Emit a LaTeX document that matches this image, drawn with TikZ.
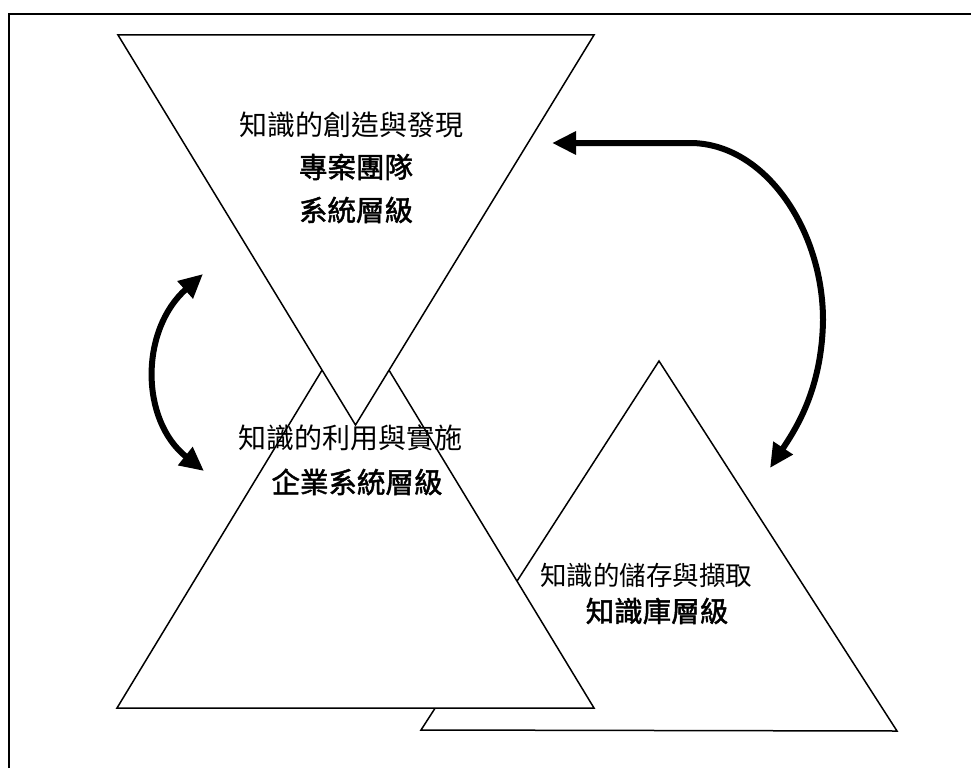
\documentclass[tikz,border=0pt]{standalone}
\usepackage{fontspec}
\newfontfamily\cjk{Noto Sans CJK TC}
\newfontfamily\cjkb[FakeBold=1.6]{Noto Sans CJK TC}
\usetikzlibrary{arrows.meta}
\begin{document}
\begin{tikzpicture}[x=1pt,y=-1pt,
  tri/.style={draw=black, line width=1.5pt, fill=white, line join=miter},
  frame/.style={draw=black, line width=1.5pt},
  bigarrow/.style={line width=6pt, {Triangle[length=24pt,width=22pt]}-{Triangle[length=24pt,width=22pt]}},
  lite/.style={font=\cjk\fontsize{28}{32}\selectfont, inner sep=0pt},
  litesm/.style={font=\cjk\fontsize{26.5}{30}\selectfont, inner sep=0pt},
  boldtxt/.style={font=\cjkb\fontsize{28.5}{32}\selectfont, inner sep=0pt}]
\useasboundingbox (0,0) rectangle (971,768);
% frame
\coordinate (fbl) at (9,768);
\coordinate (ftl) at (9,14);
\coordinate (ftr) at (971,14);
\draw[frame] (fbl) -- (ftl) -- (ftr);
% triangles
\coordinate (brL) at (421,730);
\coordinate (brT) at (659,361);
\coordinate (brR) at (897,731);
\path[tri] (brL) -- (brT) -- (brR) -- cycle;
\coordinate (llL) at (117,708);
\coordinate (llT) at (355.5,315);
\coordinate (llR) at (594,708);
\path[tri] (llL) -- (llT) -- (llR) -- cycle;
\coordinate (upL) at (118,35);
\coordinate (upR) at (594,35);
\coordinate (upB) at (355.5,425);
\path[tri] (upL) -- (upR) -- (upB) -- cycle;
% arrows
\coordinate (la) at (203,274);
\coordinate (lb) at (204,471);
\draw[bigarrow] (la) .. controls (140,330) and (140,420) .. (lb);
\coordinate (ra) at (552,143);
\coordinate (rm) at (690,143);
\coordinate (rs) at (823,320);
\coordinate (rb) at (770,468);
\draw[bigarrow] (ra) -- (rm) .. controls (765,143) and (823,230) .. (rs) .. controls (822,390) and (795,430) .. (rb);
% texts
\node[lite] (t1a) at (351,125) {知識的創造與發現};
\node[boldtxt] (t1b) at (356,167) {專案團隊};
\node[boldtxt] (t1c) at (356,210) {系統層級};
\node[lite] (t2a) at (350,438) {知識的利用與實施};
\node[boldtxt] (t2b) at (357,482) {企業系統層級};
\node[litesm] (t3a) at (646,575) {知識的儲存與擷取};
\node[boldtxt] (t3b) at (657,611) {知識庫層級};
\end{tikzpicture}
\end{document}
